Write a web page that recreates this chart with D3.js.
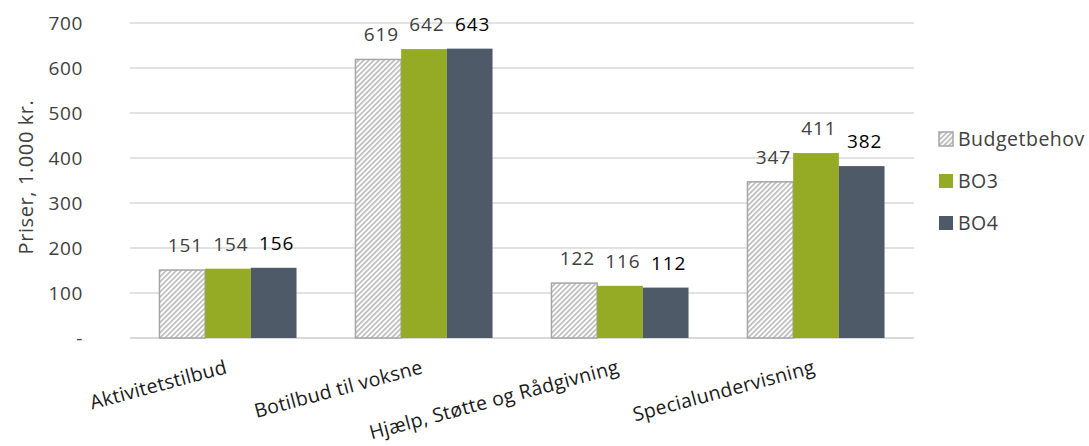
<!DOCTYPE html>
<html>
<head>
<meta charset="utf-8">
<title>Priser</title>
<script src="https://cdn.jsdelivr.net/npm/d3@7"></script>
<style>
  body { margin: 0; background: #fff; }
  text { font-family: "Open Sans", "Noto Sans", sans-serif; }
</style>
</head>
<body>
<svg id="chart" width="1089" height="446"></svg>
<script>
var categories = ["Aktivitetstilbud", "Botilbud til voksne", "Hjælp, Støtte og Rådgivning", "Specialundervisning"];
var seriesNames = ["Budgetbehov", "BO3", "BO4"];
var budgetbehov = [151, 619, 122, 347];
var bo3 = [154, 642, 116, 411];
var bo4 = [156, 643, 112, 382];
var yTicks = [0, 100, 200, 300, 400, 500, 600, 700];

var svg = d3.select("#chart");
var plot = { left: 130, right: 914, top: 23, bottom: 338 };

var x0 = d3.scaleBand().domain(categories).range([plot.left, plot.right]).padding(0);
var x1 = d3.scaleBand().domain(seriesNames).range([0, x0.bandwidth()]).paddingInner(0).paddingOuter(0.645);
var y = d3.scaleLinear().domain([0, 700]).range([plot.bottom, plot.top]);
var color = { "Budgetbehov": "url(#hatch)", "BO3": "#95AB26", "BO4": "#4E5A67" };
var values = { "Budgetbehov": budgetbehov, "BO3": bo3, "BO4": bo4 };

var defs = svg.append("defs");
var pat = defs.append("pattern")
    .attr("id", "hatch")
    .attr("patternUnits", "userSpaceOnUse")
    .attr("width", 3.6).attr("height", 3.6)
    .attr("patternTransform", "rotate(45)");
pat.append("rect").attr("width", 3.6).attr("height", 3.6).attr("fill", "#fff");
pat.append("rect").attr("width", 1.7).attr("height", 3.6).attr("fill", "#bdbdbd");

// gridlines
svg.append("g")
    .selectAll("line")
    .data(yTicks)
    .enter().append("line")
    .attr("x1", plot.left).attr("x2", plot.right)
    .attr("y1", function(d) { return y(d); })
    .attr("y2", function(d) { return y(d); })
    .attr("stroke", "#d9d9d9")
    .attr("stroke-width", function(d) { return d === 0 ? 2 : 1.3; });

// y axis labels
var yAxis = svg.append("g")
    .attr("transform", "translate(" + plot.left + ",0)")
    .call(d3.axisLeft(y).tickValues(yTicks).tickSize(0).tickPadding(47)
      .tickFormat(function(d) { return d === 0 ? "-" : d; }));
yAxis.select(".domain").remove();
yAxis.selectAll("text")
    .attr("font-size", "19px")
    .attr("fill", "#404040")
    .attr("letter-spacing", "0.6px")
    .style("font-family", "'Open Sans', sans-serif");

svg.append("text")
    .attr("transform", "translate(33,177) rotate(-90)")
    .attr("text-anchor", "middle")
    .attr("font-size", "20px")
    .attr("letter-spacing", "0.6px")
    .attr("fill", "#404040")
    .text("Priser, 1.000 kr.");

// bars
var groups = svg.append("g")
    .selectAll("g")
    .data(categories)
    .enter().append("g")
    .attr("transform", function(d) { return "translate(" + x0(d) + ",0)"; });

groups.selectAll("rect")
    .data(function(d, i) { return seriesNames.map(function(s) { return { s: s, v: values[s][i] }; }); })
    .enter().append("rect")
    .attr("x", function(d) { return x1(d.s); })
    .attr("y", function(d) { return y(d.v); })
    .attr("width", x1.bandwidth())
    .attr("height", function(d) { return y(0) - y(d.v); })
    .attr("fill", function(d) { return color[d.s]; })
    .attr("stroke", function(d) { return d.s === "Budgetbehov" ? "#a6a6a6" : "none"; })
    .attr("stroke-width", 1.5);

groups.selectAll("text.lbl")
    .data(function(d, i) { return seriesNames.map(function(s) { return { s: s, v: values[s][i] }; }); })
    .enter().append("text")
    .attr("class", "lbl")
    .attr("x", function(d) { return x1(d.s) + x1.bandwidth() / 2 + 3; })
    .attr("y", function(d) { return y(d.v) - 18; })
    .attr("text-anchor", "middle")
    .attr("font-size", "19px")
    .attr("letter-spacing", "0.9px")
    .attr("fill", function(d) { return d.s === "BO4" ? "#000" : "#404040"; })
    .text(function(d) { return d.v; });

// category labels
svg.append("g")
    .selectAll("text")
    .data(categories)
    .enter().append("text")
    .attr("transform", function(d) { return "translate(" + (x0(d) + x0.bandwidth() / 2) + ",373) rotate(-15)"; })
    .attr("text-anchor", "end")
    .attr("font-size", "19.5px")
    .attr("letter-spacing", "0.3px")
    .attr("fill", "#1a1a1a")
    .text(function(d) { return d; });

// legend
var legend = svg.append("g")
    .selectAll("g")
    .data(seriesNames)
    .enter().append("g")
    .attr("transform", function(d, i) { return "translate(939," + (139 + i * 42) + ")"; });
legend.append("rect")
    .attr("x", 0).attr("y", -7)
    .attr("width", 14).attr("height", 14)
    .attr("fill", function(d) { return color[d]; })
    .attr("stroke", function(d) { return d === "Budgetbehov" ? "#a6a6a6" : "none"; })
    .attr("stroke-width", 1.5);
legend.append("text")
    .attr("x", 19).attr("y", 0)
    .attr("dy", "0.35em")
    .attr("font-size", "19.5px")
    .attr("letter-spacing", "0.5px")
    .attr("fill", "#404040")
    .text(function(d) { return d; });
</script>
</body>
</html>
